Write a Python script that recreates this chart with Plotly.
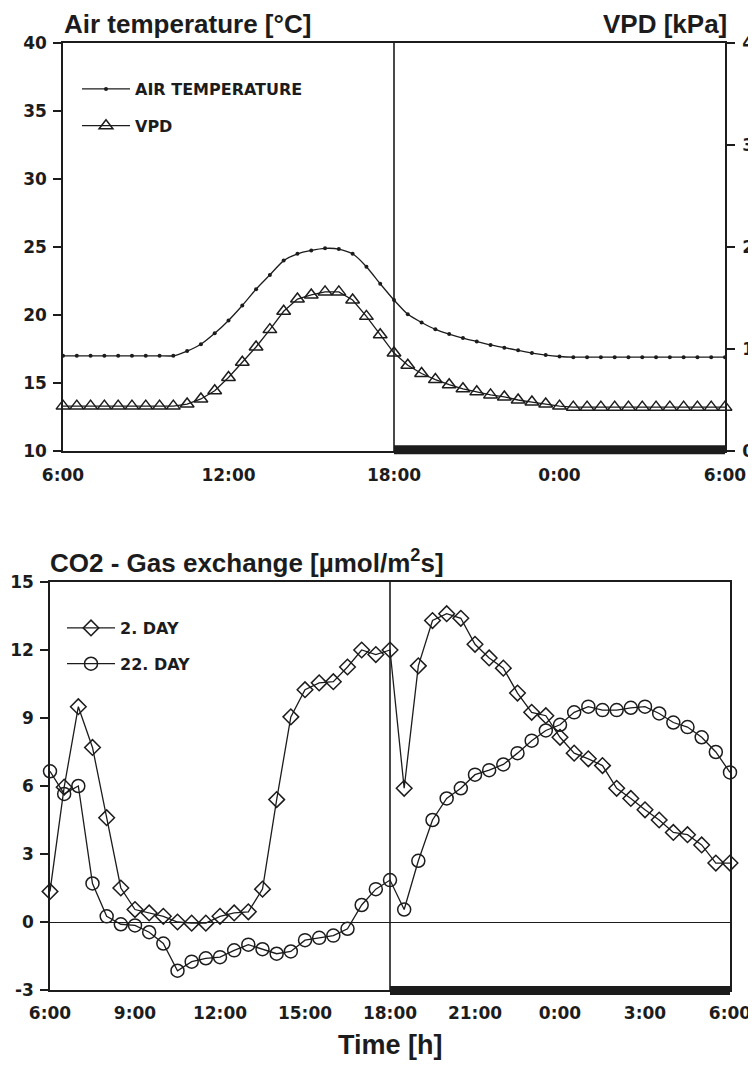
import plotly.graph_objects as go

# ---------------- data ----------------
# samples every 30 min from 6:00 to 6:00 next day (hours after 6:00)
time_h = [i * 0.5 for i in range(49)]

air_temperature = [17.0, 17.0, 17.0, 17.0, 17.0, 17.0, 17.0, 17.0, 17.0,
                   17.35, 17.85, 18.65, 19.6, 20.7, 21.9, 22.95, 24.0, 24.5,
                   24.75, 24.9, 24.85, 24.5, 23.55, 22.3, 21.1,
                   20.05, 19.45, 18.95, 18.6, 18.3, 18.05, 17.8, 17.6, 17.4,
                   17.2, 17.05, 16.95, 16.9, 16.9, 16.9, 16.9, 16.9, 16.9,
                   16.9, 16.9, 16.9, 16.9, 16.9, 16.9]

vpd = [0.44, 0.44, 0.44, 0.44, 0.44, 0.44, 0.44, 0.44, 0.44,
       0.46, 0.51, 0.59, 0.72, 0.87, 1.02, 1.19, 1.37, 1.49,
       1.53, 1.56, 1.56, 1.48, 1.32, 1.14, 0.96,
       0.84, 0.76, 0.70, 0.65, 0.61, 0.58, 0.55, 0.53, 0.50,
       0.48, 0.46, 0.44, 0.43, 0.43, 0.43, 0.43, 0.43, 0.43,
       0.43, 0.43, 0.43, 0.43, 0.43, 0.43]

co2_day2 = [1.35, 5.95, 9.5, 7.7, 4.6, 1.5, 0.55, 0.4, 0.25, 0.0, -0.05, -0.05,
            0.25, 0.4, 0.45, 1.45, 5.4, 9.05, 10.25, 10.55, 10.6, 11.25, 12.0,
            11.8, 12.0,
            5.9, 11.3, 13.3, 13.6, 13.4, 12.25, 11.65, 11.2, 10.1, 9.25, 9.1,
            8.15, 7.45, 7.2, 6.9, 5.9, 5.45, 4.95, 4.5, 3.95, 3.85, 3.4, 2.6, 2.6]

co2_day22 = [6.65, 5.65, 6.0, 1.7, 0.25, -0.1, -0.15, -0.45, -0.95, -2.15, -1.75,
             -1.6, -1.55, -1.25, -1.0, -1.2, -1.4, -1.3, -0.8, -0.7, -0.6, -0.3,
             0.75, 1.45, 1.85,
             0.55, 2.7, 4.5, 5.45, 5.9, 6.5, 6.7, 6.95, 7.45, 8.0, 8.45, 8.7,
             9.25, 9.5, 9.35, 9.35, 9.45, 9.5, 9.2, 8.8, 8.6, 8.15, 7.5, 6.6]

top_tick_vals = [0, 6, 12, 18, 24]
top_tick_text = ["6:00", "12:00", "18:00", "0:00", "6:00"]
bot_tick_vals = [0, 3, 6, 9, 12, 15, 18, 21, 24]
bot_tick_text = ["6:00", "9:00", "12:00", "15:00", "18:00", "21:00", "0:00", "3:00", "6:00"]
temp_ticks = [10, 15, 20, 25, 30, 35, 40]
vpd_ticks = [0, 1, 2, 3, 4]
co2_ticks = [-3, 0, 3, 6, 9, 12, 15]
co2_tick_text = ["-3", "0", "3", "6", "9", "12", "15"]
dark_start, dark_end = 12, 24  # 18:00 -> 6:00

# ---------------- styling ----------------
PAGE_OFF = 8                      # default page margin of the browser
W, H = 756 - PAGE_OFF, 1065 - PAGE_OFF
INK = "#1c1c1c"
TICKFONT = dict(family="DejaVu Sans", size=17, color=INK, weight="bold")
TITLEFONT = dict(family="Liberation Sans", size=26, color=INK, weight="bold")
LEGFONT = dict(family="DejaVu Sans", size=16, color=INK, weight="bold")

def px_x(p):
    return (p - PAGE_OFF) / W

def px_y(p):
    return 1 - (p - PAGE_OFF) / H

fig = go.Figure()

fig.add_trace(go.Scatter(
    x=time_h, y=air_temperature, name="AIR TEMPERATURE", mode="lines+markers",
    line=dict(color=INK, width=1.3, shape="spline", smoothing=0.6),
    marker=dict(symbol="circle", size=4, color=INK),
    xaxis="x", yaxis="y", legend="legend", legendgroup="a", cliponaxis=False))

fig.add_trace(go.Scatter(
    x=time_h, y=vpd, name="VPD", mode="lines+markers",
    line=dict(color=INK, width=1.3),
    marker=dict(symbol="triangle-up-open", size=12, color=INK, line=dict(width=1.5, color=INK)),
    xaxis="x", yaxis="y3", legend="legend", legendgroup="b", cliponaxis=False))

fig.add_trace(go.Scatter(
    x=time_h, y=co2_day2, name="2. DAY", mode="lines+markers",
    line=dict(color=INK, width=1.3),
    marker=dict(symbol="diamond-open", size=12, color=INK, line=dict(width=1.5, color=INK)),
    xaxis="x2", yaxis="y2", legend="legend2", legendgroup="c", cliponaxis=False))

fig.add_trace(go.Scatter(
    x=time_h, y=co2_day22, name="22. DAY", mode="lines+markers",
    line=dict(color=INK, width=1.3),
    marker=dict(symbol="circle-open", size=13, color=INK, line=dict(width=1.5, color=INK)),
    xaxis="x2", yaxis="y2", legend="legend2", legendgroup="d", cliponaxis=False))

axis_common = dict(showline=True, linecolor=INK, linewidth=1.6, showgrid=False,
                   tickfont=TICKFONT, tickcolor=INK, automargin=False)

fig.update_layout(
    width=W, height=H, autosize=False,
    margin=dict(l=0, r=0, t=0, b=0, autoexpand=False),
    paper_bgcolor="white", plot_bgcolor="white",
    xaxis=dict(domain=[px_x(63), px_x(725)], anchor="y", range=[0, 24],
               tickvals=top_tick_vals, ticktext=top_tick_text, ticks="",
               mirror=True, ticklabelstandoff=8, zeroline=False, **axis_common),
    yaxis=dict(domain=[px_y(451), px_y(43)], anchor="x", range=[10, 40],
               tickvals=temp_ticks, ticks="outside", ticklen=8, tickwidth=1.5,
               mirror=True, ticklabelstandoff=3, zeroline=False, **axis_common),
    yaxis3=dict(overlaying="y", side="right", anchor="x", range=[0, 4],
                tickvals=vpd_ticks, ticks="outside", ticklen=8, tickwidth=1.5,
                ticklabelstandoff=4, zeroline=False, **axis_common),
    xaxis2=dict(domain=[px_x(50), px_x(730)], anchor="y2", range=[0, 24],
                tickvals=bot_tick_vals, ticktext=bot_tick_text, ticks="",
                mirror=True, ticklabelstandoff=7, zeroline=False, **axis_common),
    yaxis2=dict(domain=[px_y(990), px_y(582)], anchor="x2", range=[-3, 15],
                tickvals=co2_ticks, ticktext=co2_tick_text, ticks="outside",
                ticklen=8, tickwidth=1.5, mirror=True, ticklabelstandoff=3,
                zeroline=True, zerolinecolor=INK, zerolinewidth=1.2, **axis_common),
    legend=dict(x=px_x(77), y=px_y(72), xanchor="left", yanchor="top",
                bgcolor="rgba(0,0,0,0)", font=LEGFONT, tracegroupgap=13,
                itemwidth=48),
    legend2=dict(x=px_x(62), y=px_y(611), xanchor="left", yanchor="top",
                 bgcolor="rgba(0,0,0,0)", font=LEGFONT, tracegroupgap=12,
                 itemwidth=48),
    shapes=[
        dict(type="line", xref="x", yref="y domain", x0=dark_start, x1=dark_start,
             y0=0, y1=1, line=dict(color=INK, width=1.6)),
        dict(type="line", xref="x2", yref="y2 domain", x0=dark_start, x1=dark_start,
             y0=0, y1=1, line=dict(color=INK, width=1.6)),
        dict(type="rect", xref="x", yref="y domain", x0=dark_start, x1=dark_end,
             y0=-0.008, y1=0.014, fillcolor=INK, line=dict(width=0)),
        dict(type="rect", xref="x2", yref="y2 domain", x0=dark_start, x1=dark_end,
             y0=-0.012, y1=0.01, fillcolor=INK, line=dict(width=0)),
    ],
    annotations=[
        dict(text="Air temperature [°C]", xref="paper", yref="paper",
             x=px_x(62), y=px_y(24), xanchor="left", yanchor="middle",
             showarrow=False, font=TITLEFONT),
        dict(text="VPD [kPa]", xref="paper", yref="paper",
             x=px_x(729), y=px_y(24), xanchor="right", yanchor="middle",
             showarrow=False, font=TITLEFONT),
        dict(text="CO2 - Gas exchange [µmol/m<sup>2</sup>s]", xref="paper", yref="paper",
             x=px_x(48), y=px_y(561), xanchor="left", yanchor="middle",
             showarrow=False, font=TITLEFONT),
        dict(text="Time [h]", xref="paper", yref="paper",
             x=px_x(390), y=px_y(1045), xanchor="center", yanchor="middle",
             showarrow=False, font=dict(family="Liberation Sans", size=27,
                                        color=INK, weight="bold")),
    ],
)

fig.write_html("out.html")
